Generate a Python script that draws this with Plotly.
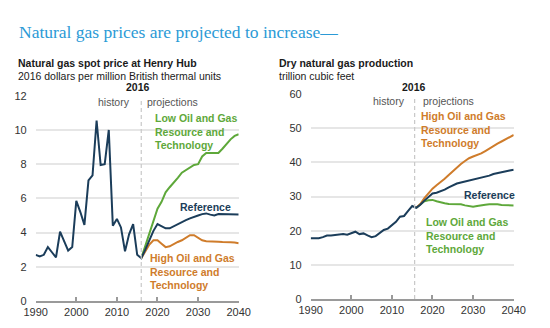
import plotly.graph_objects as go

# ---------------- data ----------------
hist_years = list(range(1990, 2017))
proj_years = list(range(2016, 2041))

price_hist = [2.7, 2.6, 2.7, 3.15, 2.85, 2.55, 4.05, 3.5, 2.95, 3.15, 5.85, 5.2, 4.45,
              7.05, 7.35, 10.55, 7.95, 8.0, 10.0, 4.4, 4.8, 4.3, 2.9, 3.9, 4.5, 2.7, 2.5]
price_ref = [2.5, 3.0, 3.6, 4.1, 4.5, 4.35, 4.25, 4.25, 4.38, 4.5, 4.6, 4.73, 4.83, 4.93,
             5.0, 5.08, 5.12, 5.05, 5.0, 5.08, 5.08, 5.06, 5.06, 5.08, 5.05]
price_low = [2.5, 3.2, 3.95, 4.7, 5.4, 5.8, 6.35, 6.65, 6.9, 7.2, 7.5, 7.65, 7.8, 7.95,
             8.0, 8.45, 8.65, 8.65, 8.65, 8.65, 8.9, 9.2, 9.45, 9.65, 9.75]
price_high = [2.5, 2.9, 3.3, 3.55, 3.55, 3.35, 3.15, 3.2, 3.35, 3.45, 3.55, 3.7, 3.85, 3.85,
              3.7, 3.55, 3.5, 3.5, 3.48, 3.47, 3.45, 3.42, 3.43, 3.42, 3.38]

prod_hist = [17.8, 17.7, 17.8, 18.1, 18.6, 18.6, 18.8, 18.9, 19.0, 18.8, 19.2, 19.7, 19.0,
             19.2, 18.6, 18.1, 18.4, 19.2, 20.2, 20.6, 21.5, 22.6, 24.1, 24.3, 25.8, 27.2, 26.7]
prod_ref = [26.7, 27.6, 28.8, 30.0, 30.9, 31.1, 31.5, 32.0, 32.7, 33.3, 33.8, 34.1, 34.4, 34.7,
            35.0, 35.1, 35.4, 35.7, 36.1, 36.6, 36.8, 37.1, 37.4, 37.6, 37.85]
prod_high = [26.7, 27.8, 29.5, 31.0, 32.3, 33.3, 34.2, 35.2, 36.3, 37.4, 38.5, 39.5, 40.4, 41.2,
             41.7, 42.1, 42.6, 43.3, 44.1, 44.9, 45.5, 46.1, 46.7, 47.4, 48.0]
prod_low = [26.7, 27.8, 28.6, 28.9, 29.0, 28.6, 28.2, 28.0, 27.8, 27.8, 27.9, 27.7, 27.4, 27.2,
            27.0, 27.2, 27.5, 27.6, 27.7, 27.8, 27.7, 27.5, 27.4, 27.4, 27.4]

x_ticks = [1990, 2000, 2010, 2020, 2030, 2040]
price_ticks = [0, 2, 4, 6, 8, 10, 12]
prod_ticks = [0, 10, 20, 30, 40, 50, 60]

NAVY = "#1b3d5a"
GREEN = "#5ea83a"
ORANGE = "#cf7c2b"
TITLE_BLUE = "#2b9ad6"
FONT = "Liberation Sans, Arial, sans-serif"

fig = go.Figure()

def add_lines(xa, ya, hist, ref, low, high):
    fig.add_trace(go.Scatter(x=proj_years, y=low, mode="lines", line=dict(color=GREEN, width=2),
                             xaxis=xa, yaxis=ya, hoverinfo="skip"))
    fig.add_trace(go.Scatter(x=proj_years, y=high, mode="lines", line=dict(color=ORANGE, width=2),
                             xaxis=xa, yaxis=ya, hoverinfo="skip"))
    fig.add_trace(go.Scatter(x=hist_years + proj_years[1:], y=hist + ref[1:], mode="lines",
                             line=dict(color=NAVY, width=2), xaxis=xa, yaxis=ya, hoverinfo="skip"))

add_lines("x", "y", price_hist, price_ref, price_low, price_high)
add_lines("x2", "y2", prod_hist, prod_ref, prod_low, prod_high)

xcommon = dict(range=[1990, 2040], tickvals=x_ticks, showgrid=False, zeroline=False,
               showline=True, linecolor="#9a9a9a", linewidth=1.5, ticks="inside", ticklen=4,
               tickcolor="#9a9a9a", tickwidth=1.5, ticklabelstandoff=0, automargin=False,
               tickfont=dict(family=FONT, size=11, color="#333333"), fixedrange=True)
ycommon = dict(showgrid=True, gridcolor="#e6e6e6", gridwidth=1.5, zeroline=False,
               showline=False, ticks="", ticklabelstandoff=8, automargin=False,
               tickfont=dict(family=FONT, size=11, color="#333333"), fixedrange=True)

fig.update_layout(
    template="none",
    width=550, height=328, margin=dict(l=0, r=0, t=0, b=0, autoexpand=False),
    paper_bgcolor="white", plot_bgcolor="white", showlegend=False,
    xaxis=dict(domain=[0.0649, 0.434], anchor="y", **xcommon),
    yaxis=dict(domain=[0.0823, 0.7082], range=[0, 12], tickvals=price_ticks, anchor="x", **ycommon),
    xaxis2=dict(domain=[0.5649, 0.934], anchor="y2", **xcommon),
    yaxis2=dict(domain=[0.0884, 0.7134], range=[0, 60], tickvals=prod_ticks, anchor="x2", **ycommon),
)

# dashed divider lines
fig.add_shape(type="line", xref="x", yref="y", x0=2016, x1=2016, y0=0, y1=11.85,
              line=dict(color="#c8c8c8", width=1.2, dash="4px,3px"))
fig.add_shape(type="line", xref="x2", yref="y2", x0=2015.6, x1=2015.6, y0=0, y1=59.2,
              line=dict(color="#c8c8c8", width=1.2, dash="4px,3px"))

ann = []
# page title
ann.append(dict(text="Natural gas prices are projected to increase—", xref="paper", yref="paper",
                x=17 / 550, y=1 - 31.5 / 328, xanchor="left", yanchor="middle", showarrow=False,
                font=dict(family="Liberation Serif, Times New Roman, serif", size=17.5, color=TITLE_BLUE)))
# panel titles
for px, t1, t2 in [(16, "Natural gas spot price at Henry Hub", "2016 dollars per million British thermal units"),
                   (277, "Dry natural gas production", "trillion cubic feet")]:
    ann.append(dict(text="<b>" + t1 + "</b>", xref="paper", yref="paper", x=px / 550, y=1 - 63 / 328,
                    xanchor="left", yanchor="middle", showarrow=False,
                    font=dict(family=FONT, size=10.5, color="#1a1a1a")))
    ann.append(dict(text=t2, xref="paper", yref="paper", x=px / 550, y=1 - 75.5 / 328,
                    xanchor="left", yanchor="middle", showarrow=False,
                    font=dict(family=FONT, size=10.5, color="#1a1a1a")))

def panel_labels(xr, yr, yshift2016, yhist, xhist, xproj, x2016, ytop, low, ref, high):
    out = []
    out.append(dict(text="<b>2016</b>", xref=xr, yref=yr, x=x2016, y=ytop, yshift=yshift2016,
                    xanchor="center", yanchor="middle", showarrow=False,
                    font=dict(family=FONT, size=10.5, color="#1a1a1a")))
    out.append(dict(text="history", xref=xr, yref=yr, x=xhist, y=yhist, xanchor="right",
                    yanchor="middle", showarrow=False, font=dict(family=FONT, size=10.5, color="#555555")))
    out.append(dict(text="projections", xref=xr, yref=yr, x=xproj, y=yhist, xanchor="left",
                    yanchor="middle", showarrow=False, font=dict(family=FONT, size=10.5, color="#555555")))
    for (x, y, anchor, txt, col, xs) in [low, ref, high]:
        out.append(dict(text=txt, xref=xr, yref=yr, x=x, y=y, xanchor=anchor, yanchor="middle",
                        xshift=xs, align="left", showarrow=False,
                        font=dict(family=FONT, size=10.5, color=col)))
    return out

LOW_TXT = "<b>Low Oil and Gas<br>Resource and<br>Technology</b>"
HIGH_TXT = "<b>High Oil and Gas<br>Resource and<br>Technology</b>"
REF_TXT = "<b>Reference</b>"

ann += panel_labels("x", "y", 8.5, 11.65, 2013.6, 2016.9, 2015.1, 12,
                    (2018.8, 9.91, "left", LOW_TXT, GREEN, 0),
                    (2038.6, 5.48, "right", REF_TXT, NAVY, 0),
                    (2017.7, 1.75, "left", HIGH_TXT, ORANGE, 0))
ann += panel_labels("x2", "y2", 7, 57.9, 2013.7, 2017.2, 2015.4, 60,
                    (2018.0, 18.5, "left", LOW_TXT, GREEN, 0),
                    (2040, 30.4, "right", REF_TXT, NAVY, 3),
                    (2016.7, 49.5, "left", HIGH_TXT, ORANGE, 0))

fig.update_layout(annotations=ann)
fig.write_html("out.html")
